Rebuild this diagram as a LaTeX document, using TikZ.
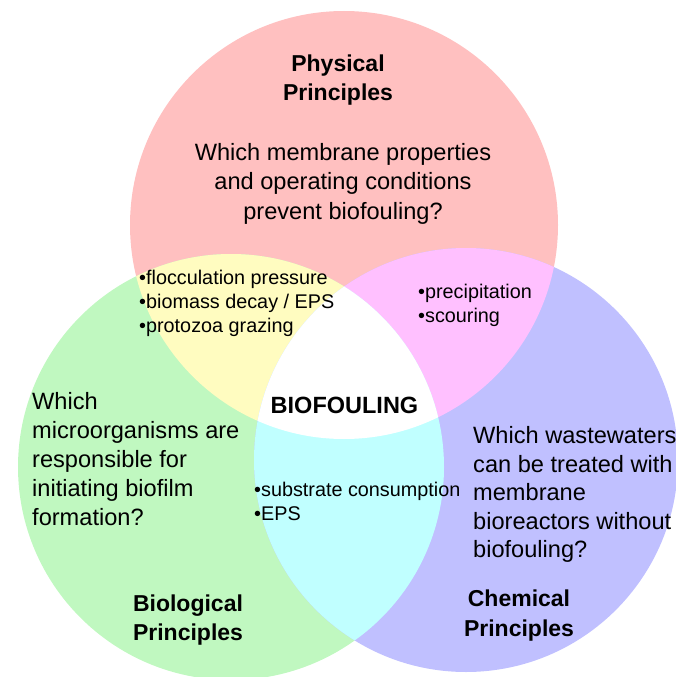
\documentclass[tikz,border=0pt]{standalone}
\usepackage{fontspec}
\setmainfont{Liberation Sans}
\definecolor{cpink}{RGB}{255,192,192}
\definecolor{cgreen}{RGB}{192,248,192}
\definecolor{cblue}{RGB}{192,192,255}
\definecolor{cyellow}{RGB}{255,252,192}
\definecolor{cmagenta}{RGB}{255,192,255}
\definecolor{ccyan}{RGB}{192,255,255}
\tikzset{
  question/.style={inner sep=0pt, font=\fontsize{23.6}{29}\selectfont},
  title/.style={inner sep=0pt, align=center, font=\fontsize{23}{29.5}\selectfont\bfseries},
  bullets/.style={inner sep=0pt, align=left, anchor=west, font=\fontsize{19.8}{24}\selectfont},
}
\begin{document}
\begin{tikzpicture}[x=1pt,y=-1pt]
\useasboundingbox (0,0) rectangle (676,677);
\coordinate (P) at (344,225);
\coordinate (G) at (231,467);
\coordinate (B) at (466,460);
\def\rP{214}\def\rG{213}\def\rB{212}
% base circles
\fill[cpink] (P) circle[radius=\rP];
\fill[cgreen] (G) circle[radius=\rG];
\fill[cblue] (B) circle[radius=\rB];
% pairwise overlaps
\begin{scope}
  \clip (P) circle[radius=\rP];
  \fill[cyellow] (G) circle[radius=\rG];
  \fill[cmagenta] (B) circle[radius=\rB];
\end{scope}
\begin{scope}
  \clip (G) circle[radius=\rG];
  \fill[ccyan] (B) circle[radius=\rB];
  \clip (B) circle[radius=\rB];
  \fill[white] (P) circle[radius=\rP];
\end{scope}
% titles
\node[title] (phys) at (338,80) {Physical\\Principles};
\node[title] (bio) at (188,620) {Biological\\Principles};
\node[title] (chem) at (519,615.5) {Chemical\\Principles};
% questions
\node[question, align=center, font=\fontsize{23.6}{29.5}\selectfont] (qphys) at (343,183.5) {Which membrane properties\\and operating conditions\\prevent biofouling?};
\node[question, align=left, anchor=west] (qbio) at (32,459) {Which\\microorganisms are\\responsible for\\initiating biofilm\\formation?};
\node[question, align=left, anchor=west, font=\fontsize{23.6}{28.5}\selectfont] (qchem) at (473,494.5) {Which wastewaters\\can be treated with\\membrane\\bioreactors without\\biofouling?};
% overlaps
\node[bullets] (pg) at (139,303) {•flocculation pressure\\•biomass decay / EPS\\•protozoa grazing};
\node[bullets] (pb) at (418,305) {•precipitation\\•scouring};
\node[bullets] (gb) at (254,501) {•substrate consumption\\•EPS};
\node[inner sep=0pt, font=\fontsize{23.5}{28}\selectfont\bfseries] (bf) at (344.5,405) {BIOFOULING};
\end{tikzpicture}
\end{document}
